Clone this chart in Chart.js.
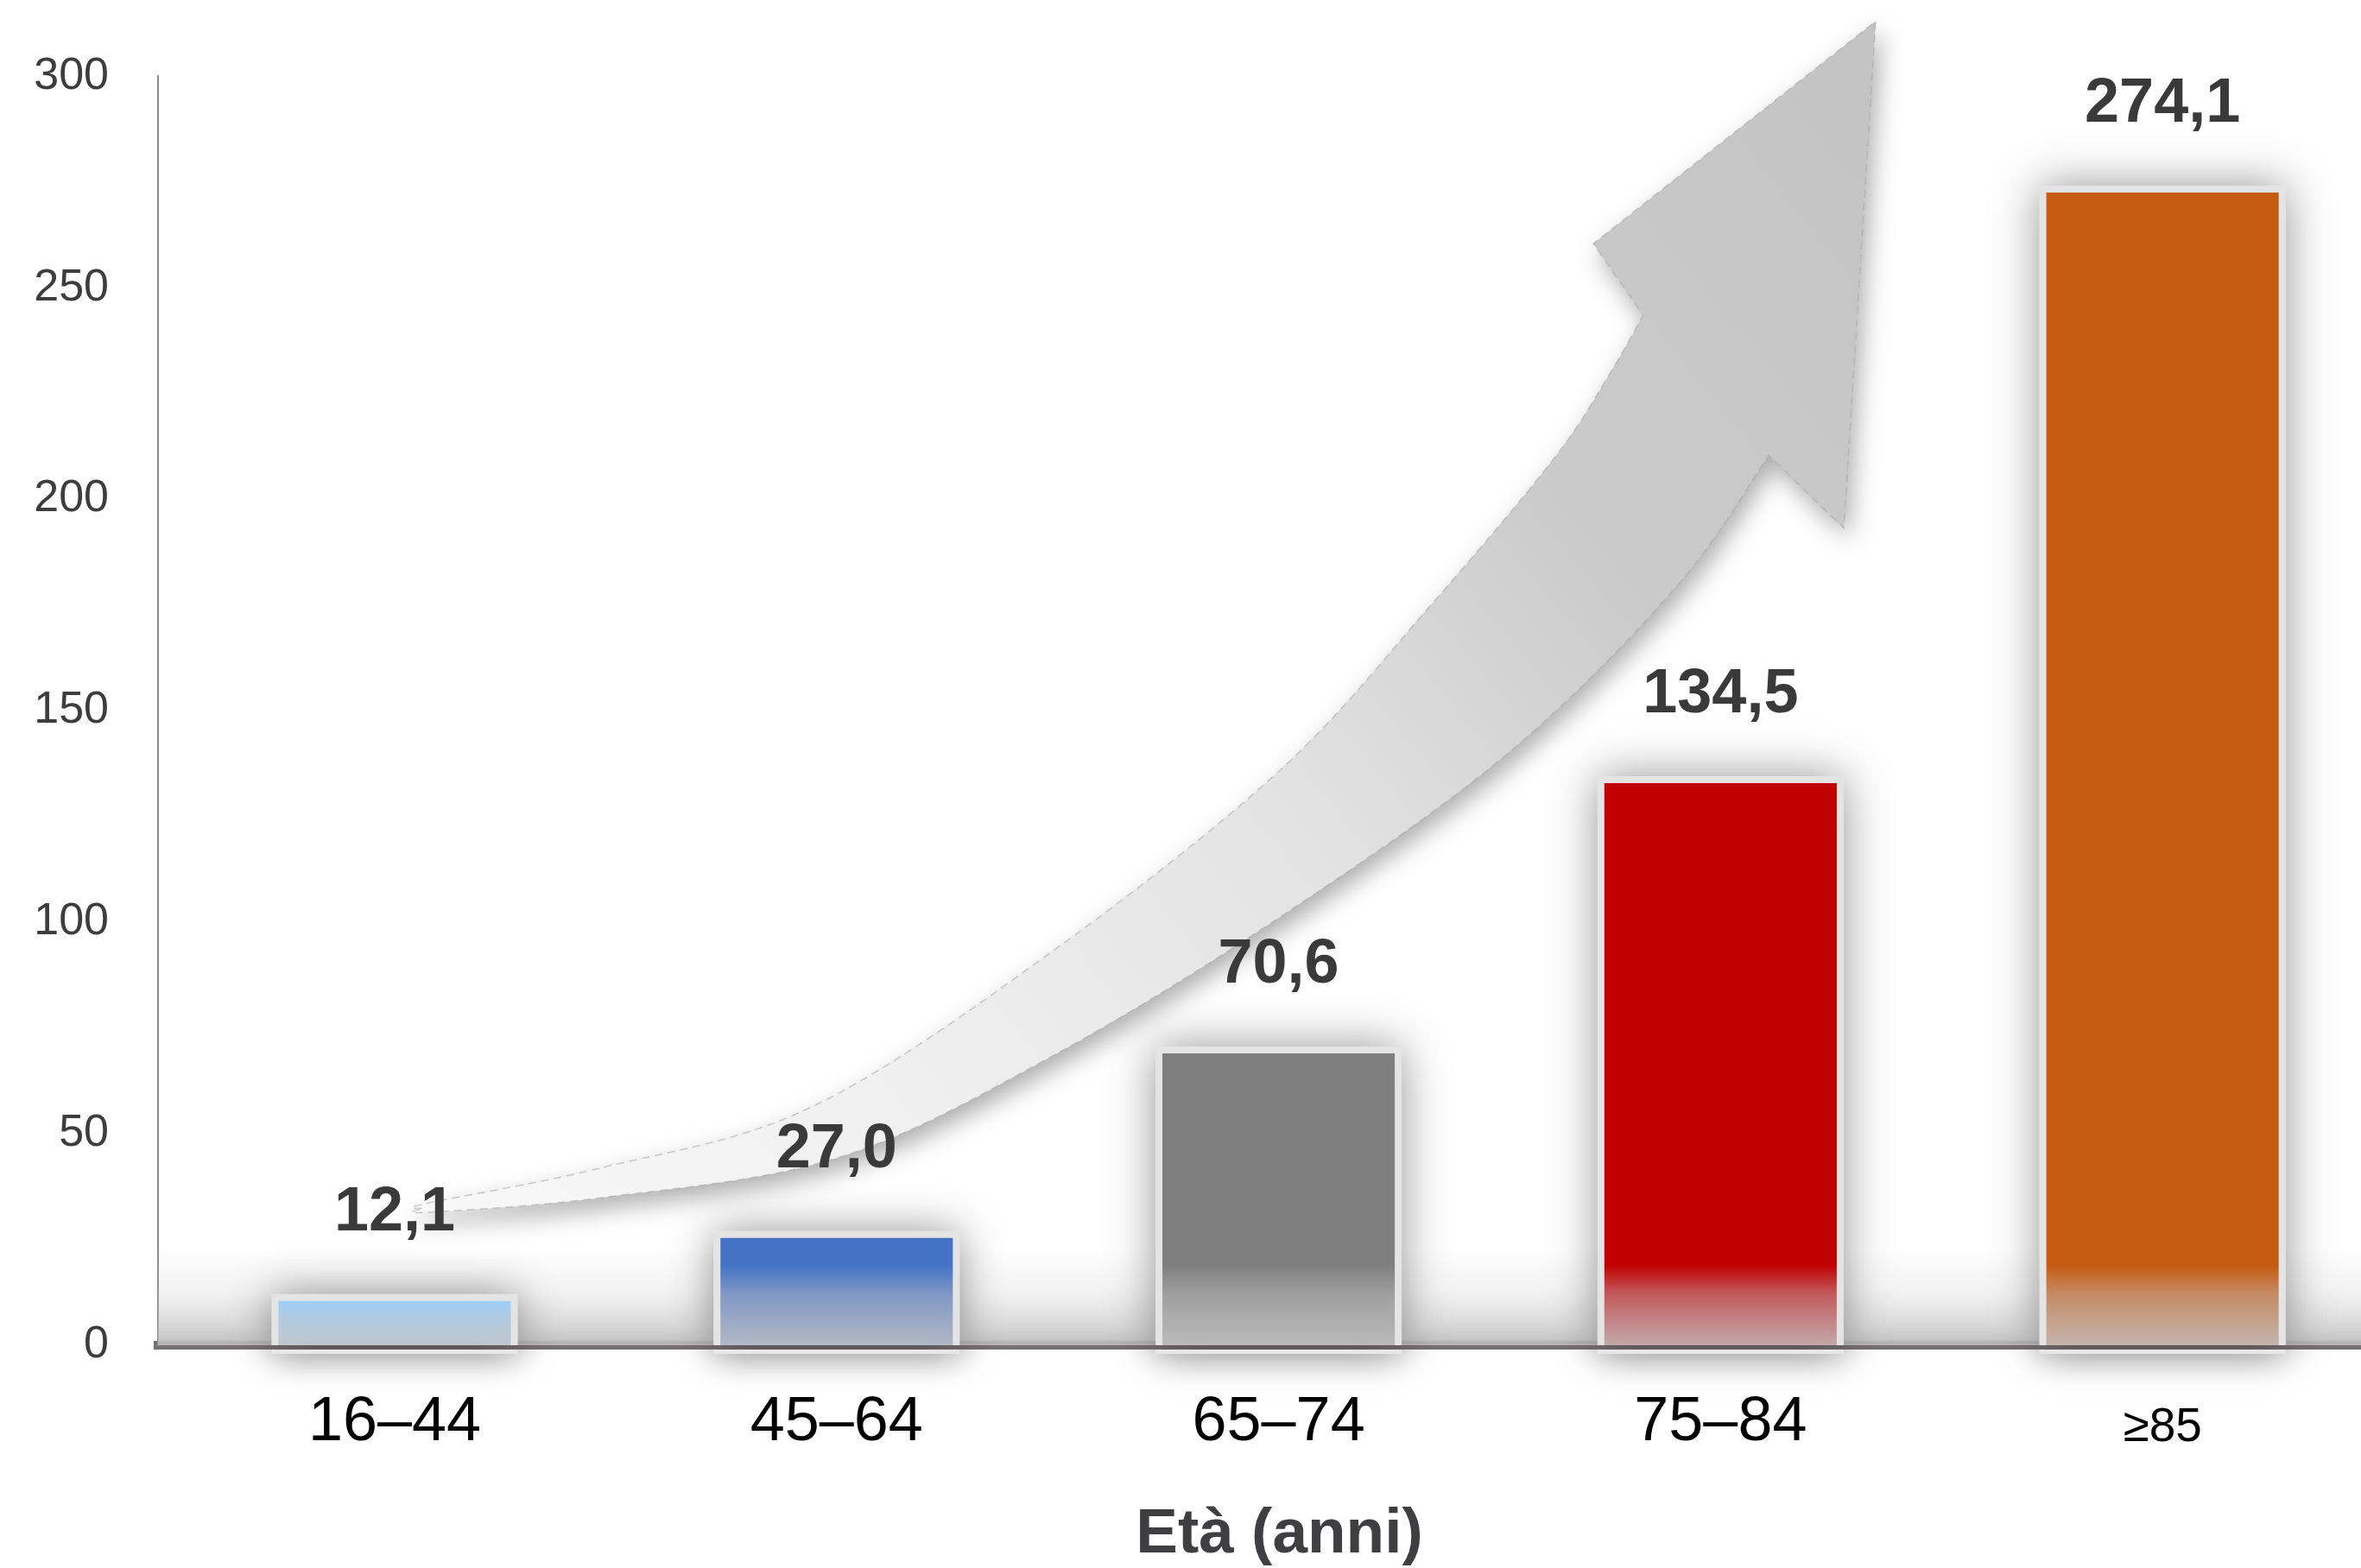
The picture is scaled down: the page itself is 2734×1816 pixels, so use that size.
<!DOCTYPE html>
<html lang="it">
<head>
<meta charset="utf-8">
<title>Età (anni)</title>
<script src="https://cdn.jsdelivr.net/npm/chart.js@4.4.1/dist/chart.umd.min.js"></script>
<style>
  html, body { margin: 0; padding: 0; background: #ffffff; overflow: hidden; }
  canvas { display: block; }
</style>
</head>
<body>
<canvas id="chart" width="2780" height="1816"></canvas>
<script>
// ---- data ----
const categories = ['16–44', '45–64', '65–74', '75–84', '≥85'];
const values = [12.1, 27.0, 70.6, 134.5, 274.1];
const barColors = ['#9dcff9', '#4472c4', '#7f7f7f', '#c00000', '#c55a11'];
const yTickValues = [0, 50, 100, 150, 200, 250, 300];
const axisTitle = 'Età (anni)';

// growth arrow outline, in axis units [category position, value]
const arrowUpper = [[0.061, 32.3], [0.071, 33.5], [0.470, 42.0], [0.947, 56.5], [1.492, 93.4],
                    [2.003, 135.9], [2.344, 174.9], [2.623, 209.6], [2.746, 229.1], [2.825, 243.5]];
const arrowHead = [[2.825, 243.5], [2.712, 260.4], [3.351, 313.0], [3.279, 193.1], [3.109, 210.4]];
const arrowLower = [[3.109, 210.4], [2.899, 179.2], [2.514, 139.5], [2.003, 101.2], [1.492, 68.6],
                    [1.005, 44.4], [0.470, 34.9], [0.071, 31.4], [0.061, 32.3]];

const FONT = "'Liberation Sans', Arial, Helvetica, sans-serif";

function hexToRgb(h) {
  const n = parseInt(h.slice(1), 16);
  return [(n >> 16) & 255, (n >> 8) & 255, n & 255];
}
function mix(hex, other, t) {
  const a = hexToRgb(hex), b = hexToRgb(other);
  const c = a.map((v, i) => Math.round(v * (1 - t) + b[i] * t));
  return `rgb(${c[0]},${c[1]},${c[2]})`;
}

// bar fill: solid colour that fades into the grey floor near the baseline
function barFill(ctx) {
  const chart = ctx.chart;
  const color = barColors[ctx.dataIndex];
  if (!chart.chartArea) return color;
  const y = chart.scales.y;
  const fadeTop = Math.min(19, values[ctx.dataIndex] - 1.5);
  const g = chart.ctx.createLinearGradient(0, y.getPixelForValue(fadeTop), 0, y.getPixelForValue(0));
  g.addColorStop(0, color);
  g.addColorStop(0.35, mix(color, '#c4c4c6', 0.45));
  g.addColorStop(0.7, mix(color, '#c4c4c6', 0.68));
  g.addColorStop(1, mix(color, '#c4c4c6', 0.85));
  return g;
}

function smoothThrough(ctx, pts, start) {
  if (start) ctx.moveTo(pts[0][0], pts[0][1]);
  else ctx.lineTo(pts[0][0], pts[0][1]);
  for (let i = 0; i < pts.length - 1; i++) {
    const p0 = pts[i - 1] || pts[i], p1 = pts[i], p2 = pts[i + 1], p3 = pts[i + 2] || p2;
    ctx.bezierCurveTo(
      p1[0] + (p2[0] - p0[0]) / 6, p1[1] + (p2[1] - p0[1]) / 6,
      p2[0] - (p3[0] - p1[0]) / 6, p2[1] - (p3[1] - p1[1]) / 6,
      p2[0], p2[1]);
  }
}

const decorPlugin = {
  id: 'decor',
  beforeDatasetsDraw(chart) {
    const { ctx, chartArea, scales: { x, y } } = chart;
    const base = y.getPixelForValue(0);

    // grey floor band along the baseline
    const top = y.getPixelForValue(23);
    const fg = ctx.createLinearGradient(0, top, 0, base);
    fg.addColorStop(0, 'rgba(200,200,200,0)');
    fg.addColorStop(0.45, 'rgba(205,205,205,0.25)');
    fg.addColorStop(0.8, 'rgba(196,195,195,0.65)');
    fg.addColorStop(1, 'rgba(188,186,186,0.95)');
    ctx.save();
    ctx.fillStyle = fg;
    ctx.fillRect(chartArea.left, top, chartArea.right - chartArea.left, base - top);
    ctx.restore();

    // soft shadows around each bar and their reflection under the axis
    const meta = chart.getDatasetMeta(0);
    meta.data.forEach((el) => {
      const p = el.getProps(['x', 'y', 'base', 'width'], true);
      const left = p.x - p.width / 2;
      ctx.save();
      ctx.shadowColor = 'rgba(0,0,0,0.42)';
      ctx.shadowBlur = 50;
      ctx.fillStyle = '#e4e4e4';
      ctx.fillRect(left, p.y, p.width, p.base - p.y);
      ctx.restore();

      ctx.save();
      ctx.beginPath();
      ctx.rect(0, p.base + 5, chart.width, 200);
      ctx.clip();
      ctx.shadowColor = 'rgba(0,0,0,0.32)';
      ctx.shadowBlur = 40;
      ctx.fillStyle = '#e8e8e8';
      ctx.fillRect(left, p.base - 20, p.width, 30);
      ctx.restore();
    });

    // curved growth arrow
    const px = (pt) => [x.getPixelForValue(pt[0]), y.getPixelForValue(pt[1])];
    const up = arrowUpper.map(px), head = arrowHead.map(px), low = arrowLower.map(px);
    ctx.save();
    ctx.beginPath();
    smoothThrough(ctx, up, true);
    head.slice(1).forEach((q) => ctx.lineTo(q[0], q[1]));
    smoothThrough(ctx, low, false);
    ctx.closePath();
    const tail = up[0], tip = head[2];
    const ag = ctx.createLinearGradient(tail[0], tail[1], tip[0], tip[1]);
    ag.addColorStop(0, '#f8f8f8');
    ag.addColorStop(0.25, '#efefef');
    ag.addColorStop(0.5, '#e2e2e2');
    ag.addColorStop(0.7, '#cbcbcb');
    ag.addColorStop(1, '#c3c3c3');
    ctx.shadowColor = 'rgba(0,0,0,0.32)';
    ctx.shadowBlur = 28;
    ctx.shadowOffsetX = 6;
    ctx.shadowOffsetY = 12;
    ctx.fillStyle = ag;
    ctx.fill();
    ctx.shadowColor = 'transparent';
    ctx.setLineDash([9, 6]);
    ctx.lineWidth = 1.5;
    ctx.strokeStyle = 'rgba(170,170,170,0.6)';
    ctx.stroke();
    ctx.restore();
  },
  afterDatasetsDraw(chart) {
    const { ctx } = chart;
    const meta = chart.getDatasetMeta(0);
    ctx.save();
    ctx.font = `bold 72px ${FONT}`;
    ctx.fillStyle = '#3a3a3a';
    ctx.textAlign = 'center';
    ctx.textBaseline = 'alphabetic';
    meta.data.forEach((el, i) => {
      const label = values[i].toFixed(1).replace('.', ',');
      ctx.fillText(label, el.x, el.y - 74);
    });
    ctx.restore();
  }
};

new Chart(document.getElementById('chart'), {
  type: 'bar',
  data: {
    datasets: [{
      data: values.map((v, i) => ({ x: i, y: v })),
      backgroundColor: barFill,
      borderColor: '#e4e4e4',
      borderWidth: { top: 8, left: 8, right: 8, bottom: 0 },
      borderSkipped: 'start',
      barPercentage: 0.557,
      categoryPercentage: 1
    }]
  },
  options: {
    responsive: false,
    animation: false,
    devicePixelRatio: 1,
    layout: { padding: { top: 82, left: 0, right: 0, bottom: 0 } },
    plugins: { legend: { display: false }, tooltip: { enabled: false } },
    scales: {
      x: {
        type: 'linear',
        z: 1,
        min: -0.5354,
        max: 4.539,
        offset: false,
        grid: { display: false, drawTicks: false },
        border: { display: true, color: '#767170', width: 10 },
        afterBuildTicks: (axis) => { axis.ticks = categories.map((_, i) => ({ value: i })); },
        afterFit: (axis) => { axis.height = 258; },
        ticks: {
          autoSkip: false,
          maxRotation: 0,
          padding: 47,
          color: '#000000',
          callback: (v) => categories[v],
          font: (c) => c.index === 4
            ? { family: FONT, size: 55, lineHeight: 1.77 }
            : { family: FONT, size: 72, lineHeight: 1.2 }
        },
        title: {
          display: true,
          text: axisTitle,
          color: '#3f3f42',
          font: { family: FONT, size: 73, weight: 'bold', lineHeight: 1 },
          padding: { top: 0, bottom: 2 }
        }
      },
      y: {
        z: 1,
        min: 0,
        max: 300,
        grid: { display: false, drawTicks: false },
        border: { display: true, color: '#8c8c8c', width: 2 },
        afterBuildTicks: (axis) => { axis.ticks = yTickValues.map((v) => ({ value: v })); },
        afterFit: (axis) => { axis.width = 183; },
        ticks: {
          padding: 57,
          color: '#3d3d3d',
          font: { family: FONT, size: 52 }
        }
      }
    }
  },
  plugins: [decorPlugin]
});
</script>
</body>
</html>
